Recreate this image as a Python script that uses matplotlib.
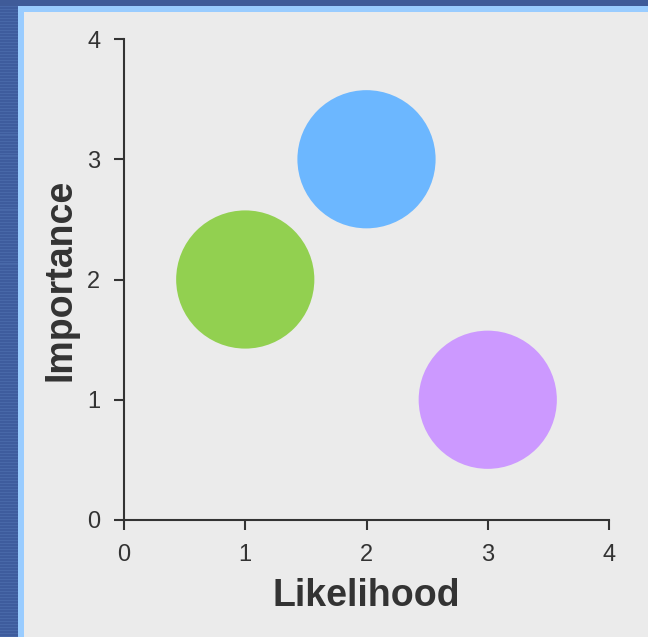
import matplotlib.pyplot as plt
from matplotlib.patches import Rectangle

# Bubble data
likelihood = [1, 2, 3]
importance = [2, 3, 1]
bubble_colors = ['#92d050', '#6cb7ff', '#cc99ff']
ticks = [0, 1, 2, 3, 4]

W, H = 648, 637
fig = plt.figure(figsize=(W / 100, H / 100), dpi=100)
fig.patch.set_facecolor('#3e5c9d')
plt.rcParams['font.family'] = ['Liberation Sans', 'DejaVu Sans']

# striped window frame
for y in range(0, H, 3):
    fig.patches.append(Rectangle((0, y / H), 18 / W, 1.5 / H, transform=fig.transFigure,
                                 facecolor='#4868a8', edgecolor='none', zorder=0))
fig.patches.append(Rectangle((0, 1 - 6 / H), 1, 6 / H, transform=fig.transFigure,
                             facecolor='#3f5b99', edgecolor='none', zorder=0))
fig.patches.append(Rectangle((18 / W, 0), 1, 1 - 6 / H, transform=fig.transFigure,
                             facecolor='#99ccff', edgecolor='none', zorder=1))
fig.patches.append(Rectangle((24 / W, 0), 1, 1 - 12 / H, transform=fig.transFigure,
                             facecolor='#ebebeb', edgecolor='none', zorder=2))

ax = fig.add_axes([124 / W, 1 - 520 / H, 485 / W, 481 / H])
ax.set_zorder(5)
ax.set_facecolor('none')
ax.scatter(likelihood, importance, s=9900, c=bubble_colors, edgecolors='none', zorder=3)

ax.set_xlim(0, 4)
ax.set_ylim(0, 4)
ax.set_xticks(ticks)
ax.set_yticks(ticks)
for side in ['top', 'right']:
    ax.spines[side].set_visible(False)
for side in ['left', 'bottom']:
    ax.spines[side].set_color('#333333')
    ax.spines[side].set_linewidth(1.5)
ax.tick_params(direction='out', length=7, width=1.5, color='#333333',
               labelcolor='#333333', labelsize=17, pad=10)
ax.set_xlabel('Likelihood', fontsize=27, fontweight='bold', color='#333333', labelpad=9)
ax.set_ylabel('Importance', fontsize=27, fontweight='bold', color='#333333', labelpad=6)

fig.savefig('out.png', dpi=100, facecolor=fig.get_facecolor())
